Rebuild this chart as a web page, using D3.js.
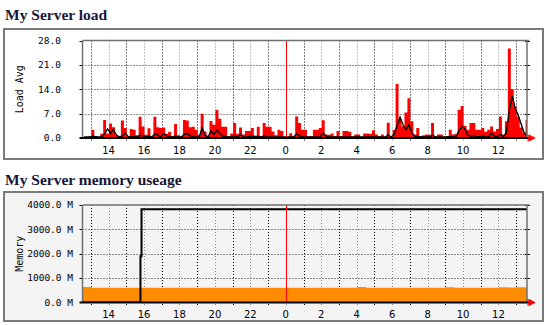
<!DOCTYPE html>
<html>
<head>
<meta charset="utf-8">
<script src="https://cdn.jsdelivr.net/npm/d3@7"></script>
<style>
  body { margin: 0; background: #fff; }
  svg text { font-family: "DejaVu Sans Mono", monospace; }
  svg text.title { font-family: "Liberation Serif", "Times New Roman", serif; font-weight: bold; }
  svg text.xlab { font-family: "DejaVu Sans", sans-serif; }
</style>
</head>
<body>
<div id="chart"></div>
<script>
// time axis in hours counted from yesterday 00:00 (24 = midnight)
const startHour = 12.53;
const endHour = 37.61;
const loadStep = 1 / 6;   // one sample every 10 min
const memStep = 0.5;      // one sample every 30 min

// load: max (red area) and average (black line), 10 min samples
const loadMax = [
  0.3, 0.2, 0.4, 2.4, 0.5, 0.3, 1.2, 5.2, 1.3, 4.2,
  3.1, 0.8, 0.4, 5.0, 2.9, 0.6, 2.6, 2.4, 0.8, 6.1,
  3.3, 0.9, 2.8, 0.6, 6.1, 3.1, 2.9, 3.0, 1.2, 1.8,
  0.5, 4.0, 0.8, 0.5, 5.2, 5.0, 3.1, 3.2, 2.4, 0.9,
  7.0, 1.9, 0.6, 4.9, 3.8, 8.1, 5.5, 3.2, 3.2, 0.4,
  1.3, 4.3, 1.2, 3.0, 1.0, 2.0, 2.0, 2.9, 0.7, 3.2,
  0.5, 4.3, 3.2, 3.2, 1.9, 0.8, 2.4, 2.0, 0.3, 0.4,
  1.4, 0.5, 6.2, 4.3, 2.4, 2.4, 0.4, 0.5, 2.4, 2.4,
  2.9, 5.1, 1.0, 0.9, 1.3, 0.5, 2.0, 0.6, 2.0, 2.0,
  1.8, 0.4, 1.0, 1.0, 0.3, 1.3, 1.3, 1.2, 2.2, 1.0,
  0.4, 1.0, 0.3, 4.4, 0.5, 2.4, 15.5, 5.3, 3.4, 7.3,
  11.4, 4.8, 1.0, 2.9, 0.5, 0.8, 1.0, 0.9, 4.3, 0.3,
  1.0, 1.0, 0.3, 0.5, 2.4, 1.0, 1.2, 8.1, 9.2, 3.5,
  2.4, 4.3, 4.3, 2.4, 2.4, 2.9, 1.8, 2.4, 3.3, 1.9,
  2.6, 6.2, 1.0, 4.8, 25.7, 14.0, 9.0, 6.0, 3.0, 1.5, 5.2
];
const loadAvg = [
  0.3, 0.3, 0.3, 0.5, 0.4, 0.3, 0.3, 1.2, 2.6, 1.3,
  2.4, 0.8, 0.3, 0.6, 1.4, 0.4, 0.3, 0.4, 0.3, 0.8,
  0.6, 0.3, 0.5, 0.3, 1.2, 0.8, 0.3, 1.2, 0.6, 0.3,
  0.3, 0.6, 0.3, 0.3, 1.1, 1.2, 0.6, 0.4, 0.3, 0.3,
  2.8, 0.8, 0.3, 2.0, 1.0, 2.2, 1.4, 0.5, 0.4, 0.3,
  0.3, 0.6, 0.3, 1.0, 0.3, 0.3, 0.4, 0.5, 0.3, 0.4,
  0.3, 0.6, 0.4, 0.3, 0.3, 0.3, 0.3, 0.3, 0.3, 0.3,
  0.3, 0.3, 1.2, 0.5, 0.3, 0.3, 0.3, 0.3, 0.3, 0.3,
  0.4, 1.4, 0.4, 0.3, 0.3, 0.3, 0.3, 0.3, 0.3, 0.3,
  0.3, 0.3, 0.3, 0.3, 0.3, 0.3, 0.3, 0.3, 0.4, 0.3,
  0.3, 0.3, 0.3, 0.9, 0.3, 1.0, 3.5, 6.0, 3.8, 2.4,
  3.8, 1.5, 0.4, 0.5, 0.3, 0.3, 0.3, 0.3, 0.8, 0.3,
  0.3, 0.3, 0.3, 0.3, 0.4, 0.3, 0.4, 2.2, 3.2, 2.6,
  0.8, 0.5, 0.6, 0.4, 0.4, 0.5, 0.3, 0.4, 1.4, 0.5,
  0.4, 1.0, 0.4, 1.5, 8.0, 12.0, 8.5, 6.5, 4.0, 1.5, 0.6
];

// memory: total (black step line, change points) and used (orange area, 30 min samples)
const memTimes = [12.53, 15.80, 15.86, 37.61];
const memTotal = [0, 1900, 3830, 3830];
const memUsed = [
  640, 610, 605, 605, 610, 605, 605, 610, 605, 605,
  605, 610, 605, 605, 605, 610, 605, 605, 605, 605,
  610, 605, 605, 605, 610, 605, 605, 605, 610, 605,
  610, 640, 610, 605, 605, 610, 605, 605, 605, 610,
  605, 630, 610, 605, 605, 610, 605, 625, 615, 630, 620
];

const loadTicks = [0, 7, 14, 21, 28];
const memTicks = [0, 1000, 2000, 3000, 4000];
const hourLabels = [14, 16, 18, 20, 22, 24, 26, 28, 30, 32, 34, 36];

const W = 549, H = 325;
const plotLeft = 82.5, plotRight = 527;

var svg = d3.select('#chart').append('svg')
    .attr('width', W)
    .attr('height', H)

var x = d3.scaleLinear().domain([startHour, endHour]).range([plotLeft, plotRight]);

function makeChart(c) {
    var g = svg.append('g');

    g.append('text')
        .attr('class', 'title')
        .attr('x', 5).attr('y', c.titleY)
        .attr('font-size', '15.5px')
        .attr('fill', '#16163a')
        .text(c.title);

    g.append('rect')
        .attr('x', 4).attr('y', c.boxTop)
        .attr('width', 539).attr('height', c.boxH)
        .attr('fill', c.bg)
        .attr('stroke', '#7a7a7a')
        .attr('stroke-width', 2);

    var y = d3.scaleLinear().domain([0, c.max]).range([c.plotBottom, c.plotTop]);

    // vertical grid, one line per hour, darker on odd hours
    g.selectAll('.vgrid').data(d3.range(13, 38)).join('line')
        .attr('class', 'vgrid')
        .attr('x1', d => Math.round(x(d)) + 0.5).attr('x2', d => Math.round(x(d)) + 0.5)
        .attr('y1', c.plotTop).attr('y2', c.plotBottom + 3)
        .attr('stroke', d => d % 2 ? '#000' : '#8a8a8a')
        .attr('stroke-dasharray', '1,2');

    // horizontal grid
    g.selectAll('.hgrid').data(c.ticks.slice(1, -1)).join('line')
        .attr('class', 'hgrid')
        .attr('x1', plotLeft).attr('x2', plotRight)
        .attr('y1', d => Math.round(y(d)) + 0.5).attr('y2', d => Math.round(y(d)) + 0.5)
        .attr('stroke', '#222')
        .attr('stroke-dasharray', '1,2');

    // small ticks on both sides
    g.selectAll('.ltick').data(c.ticks.slice(1)).join('line')
        .attr('x1', plotLeft - 3).attr('x2', plotLeft)
        .attr('y1', d => Math.round(y(d)) + 0.5).attr('y2', d => Math.round(y(d)) + 0.5)
        .attr('stroke', '#000');
    g.selectAll('.rtick').data(c.ticks.slice(1)).join('line')
        .attr('x1', plotRight - 2).attr('x2', plotRight + 3)
        .attr('y1', d => Math.round(y(d)) + 0.5).attr('y2', d => Math.round(y(d)) + 0.5)
        .attr('stroke', '#000');

    // y labels
    g.selectAll('.ylab').data(c.ticks).join('text')
        .attr('x', c.labelX)
        .attr('y', d => y(d))
        .attr('dy', '0.35em')
        .attr('text-anchor', 'end')
        .attr('font-size', '9.5px')
        .attr('fill', '#000')
        .text(c.fmt);

    // x labels
    g.selectAll('.xlab').data(hourLabels).join('text')
        .attr('class', 'xlab')
        .attr('x', d => x(d))
        .attr('y', c.plotBottom + 15.5)
        .attr('text-anchor', 'middle')
        .attr('font-size', '10px')
        .attr('fill', '#000')
        .text(d => d % 24);

    // vertical axis title
    g.append('text')
        .attr('transform', `translate(${23},${(c.plotTop + c.plotBottom) / 2}) rotate(-90)`)
        .attr('text-anchor', 'middle')
        .attr('font-size', '10px')
        .text(c.yTitle);

    var marks = g.append('g').attr('clip-path', `url(#${c.id})`);
    svg.append('clipPath').attr('id', c.id)
        .append('rect')
        .attr('x', plotLeft).attr('y', c.plotTop)
        .attr('width', plotRight - plotLeft).attr('height', c.plotBottom - c.plotTop);

    return {g: g, marks: marks, y: y, c: c};
}

function drawFrameLines(ch) {
    var g = ch.g, c = ch.c;
    // midnight rule
    g.append('line')
        .attr('x1', Math.round(x(24)) + 0.5).attr('x2', Math.round(x(24)) + 0.5)
        .attr('y1', c.plotTop).attr('y2', c.plotBottom)
        .attr('stroke', '#ff0000');
    g.append('line')
        .attr('x1', plotLeft).attr('x2', plotRight + 2)
        .attr('y1', c.plotTop).attr('y2', c.plotTop)
        .attr('stroke', '#707070').attr('stroke-width', 1.5);
    g.append('line')
        .attr('x1', plotLeft).attr('x2', plotLeft)
        .attr('y1', c.plotTop).attr('y2', c.plotBottom)
        .attr('stroke', '#707070').attr('stroke-width', 1.5);
    g.append('line')
        .attr('x1', plotRight).attr('x2', plotRight)
        .attr('y1', c.plotTop).attr('y2', c.plotBottom)
        .attr('stroke', '#707070').attr('stroke-width', 1.5);
    // x axis + arrow
    g.append('line')
        .attr('x1', plotLeft - 3).attr('x2', plotRight + 2)
        .attr('y1', c.plotBottom).attr('y2', c.plotBottom)
        .attr('stroke', '#000').attr('stroke-width', 2);
    var b = c.plotBottom;
    g.append('path')
        .attr('d', `M${plotRight + 1},${b - 3.5}V${b + 3.5}M${plotRight + 2},${b - 3}L${plotRight + 8},${b}L${plotRight + 2},${b + 3}Z`)
        .attr('fill', '#ff0000').attr('stroke', '#ff0000').attr('stroke-width', 1);
}

// ---- load chart ----
var load = makeChart({
    id: 'clipLoad', title: 'My Server load', titleY: 20,
    boxTop: 29, boxH: 130, bg: '#ffffff',
    plotTop: 40.5, plotBottom: 138, max: 28,
    ticks: loadTicks, fmt: d => d3.format('.1f')(d), labelX: 61, yTitle: 'Load Avg'
});

var maxPts = loadMax.map((v, i) => [startHour + i * loadStep, v]);
maxPts.push([startHour + loadMax.length * loadStep, loadMax[loadMax.length - 1]]);
load.marks.append('path')
    .datum(maxPts)
    .attr('fill', '#ff0000')
    .attr('d', d3.area().curve(d3.curveStepAfter)
        .x(d => x(d[0])).y0(load.y(0)).y1(d => load.y(d[1])));

load.marks.append('path')
    .datum(loadAvg.map((v, i) => [startHour + (i + 0.5) * loadStep, v]))
    .attr('fill', 'none')
    .attr('stroke', '#000')
    .attr('stroke-width', 1.4)
    .attr('d', d3.line().x(d => x(d[0])).y(d => load.y(d[1])));

drawFrameLines(load);

// ---- memory chart ----
var mem = makeChart({
    id: 'clipMem', title: 'My Server memory useage', titleY: 184.5,
    boxTop: 192, boxH: 129, bg: '#f4f4f4',
    plotTop: 205, plotBottom: 302.5, max: 4000,
    ticks: memTicks, fmt: d => d3.format('.1f')(d) + ' M', labelX: 73, yTitle: 'Memory'
});

var usedPts = memUsed.map((v, i) => [startHour + i * memStep, v]);
usedPts.push([endHour, memUsed[memUsed.length - 1]]);
mem.marks.append('path')
    .datum(usedPts)
    .attr('fill', '#ff8c00')
    .attr('d', d3.area().curve(d3.curveStepAfter)
        .x(d => x(d[0])).y0(mem.y(0)).y1(d => mem.y(d[1])));

mem.marks.append('path')
    .datum(memTimes.map((t, i) => [t, memTotal[i]]))
    .attr('fill', 'none')
    .attr('stroke', '#000')
    .attr('stroke-width', 2)
    .attr('d', d3.line().curve(d3.curveStepAfter).x(d => x(d[0])).y(d => mem.y(d[1])));

drawFrameLines(mem);
</script>
</body>
</html>
